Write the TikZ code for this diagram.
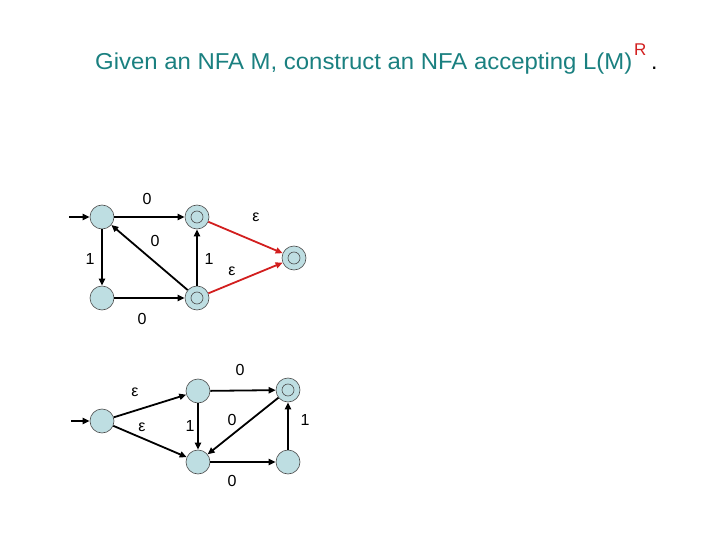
\documentclass[tikz,border=0pt]{standalone}
\usepackage{fontspec}
\setmainfont{Liberation Sans}
\usetikzlibrary{arrows.meta}
\definecolor{titlecol}{RGB}{26,128,128}
\definecolor{statefill}{RGB}{190,222,226}
\definecolor{edgered}{RGB}{210,30,30}
\tikzset{
  state/.style={circle,draw=black!70,line width=0.6pt,fill=statefill,minimum size=24pt,inner sep=0pt},
  accept/.style={state,path picture={\draw[black!70,line width=0.6pt] (path picture bounding box.center) circle (6pt);}},
  edge/.style={-{Triangle[length=7pt,width=6pt]},line width=1.8pt,black},
  redge/.style={edge,edgered},
  lab/.style={font=\fontsize{16}{16}\selectfont,inner sep=0pt}
}
\begin{document}
\begin{tikzpicture}[x=1pt,y=-1pt]
\useasboundingbox (0,0) rectangle (720,540);
% title
\node[anchor=base west,inner sep=0pt,text=titlecol,font=\fontsize{23}{23}\selectfont,xscale=1.04] (title) at (95,70) {Given an NFA M, construct an NFA accepting L(M)};
\node[anchor=base west,inner sep=0pt,text=edgered,font=\fontsize{17}{17}\selectfont] (sup) at (634,56) {R};
\node[anchor=base west,inner sep=0pt,font=\fontsize{23}{23}\selectfont] (dot) at (651,70) {.};
% top NFA
\node[state] (A) at (102,217) {};
\node[accept] (B) at (197,217) {};
\node[state] (C) at (102,298) {};
\node[accept] (D) at (197,298) {};
\node[accept] (E) at (294,258) {};
\coordinate (s1) at (69,217);
\draw[edge] (s1) -- (A);
\draw[edge] (A) -- (B);
\draw[edge] (A) -- (C);
\draw[edge] (C) -- (D);
\draw[edge] (D) -- (A);
\draw[edge] (D) -- (B);
\draw[redge] (B) -- (E);
\draw[redge] (D) -- (E);
\node[lab] (l1) at (147,199) {0};
\node[lab] (l2) at (155,241) {0};
\node[lab] (l3) at (90,259) {1};
\node[lab] (l4) at (209,259) {1};
\node[lab] (l5) at (256,217) {ε};
\node[lab] (l6) at (232,271) {ε};
\node[lab] (l7) at (142,319) {0};
% bottom NFA
\node[state] (P) at (102,421) {};
\node[state] (Q) at (198,391) {};
\node[accept] (R) at (288,390) {};
\node[state] (S) at (198,462) {};
\node[state] (T) at (288,462) {};
\coordinate (s2) at (71,421);
\draw[edge] (s2) -- (P);
\draw[edge] (P) -- (Q);
\draw[edge] (P) -- (S);
\draw[edge] (Q) -- (R);
\draw[edge] (Q) -- (S);
\draw[edge] (R) -- (S);
\draw[edge] (S) -- (T);
\draw[edge] (T) -- (R);
\node[lab] (m1) at (240,370) {0};
\node[lab] (m2) at (135,392) {ε};
\node[lab] (m3) at (142,427) {ε};
\node[lab] (m4) at (190,426) {1};
\node[lab] (m5) at (232,420) {0};
\node[lab] (m6) at (305,420) {1};
\node[lab] (m7) at (232,481) {0};
\end{tikzpicture}
\end{document}
